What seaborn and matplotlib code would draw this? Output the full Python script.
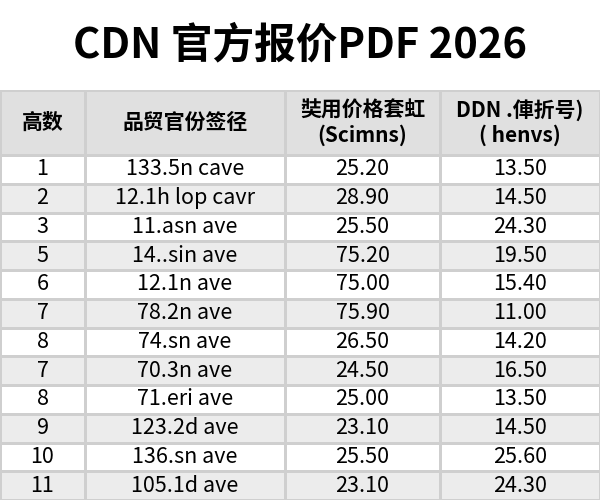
import numpy as np
import matplotlib
matplotlib.use("Agg")
import matplotlib.pyplot as plt
from matplotlib.colors import ListedColormap
import seaborn as sns

sns.set_theme(style="white")
plt.rcParams['font.family'] = ['Noto Sans CJK SC', 'DejaVu Sans']

title = "CDN 官方报价PDF 2026"
headers = ["高数", "品贸官份签径", "奘用价格套虹\n(Scimns)", "DDN .俥折号)\n( henvs)"]
col_ids = ["1", "2", "3", "5", "6", "7", "8", "7", "8", "9", "10", "11"]
col_names = ["133.5n cave", "12.1h lop cavr", "11.asn ave", "14..sin ave", "12.1n ave",
             "78.2n ave", "74.sn ave", "70.3n ave", "71.eri ave", "123.2d ave",
             "136.sn ave", "105.1d ave"]
col_price = [25.20, 28.90, 25.50, 75.20, 75.00, 75.90, 26.50, 24.50, 25.00, 23.10, 25.50, 23.10]
col_disc = [13.50, 14.50, 24.30, 19.50, 15.40, 11.00, 14.20, 16.50, 13.50, 14.50, 25.60, 24.30]

columns = [col_ids, col_names,
           [f"{v:.2f}" for v in col_price],
           [f"{v:.2f}" for v in col_disc]]

fig = plt.figure(figsize=(6, 5), dpi=100)
fig.text(0.5, 0.91, title, ha="center", va="center", fontsize=30, fontweight="bold", color="black")

# column edges in pixels
edges = [0, 85, 285, 440, 600]
body_top = 345 / 500
head_h = 65 / 500
n = len(col_ids)
shade = np.array([[i % 2] for i in range(n)])
cmap = ListedColormap(["white", "#ececec"])

for j in range(4):
    x0 = edges[j] / 600
    w = (edges[j + 1] - edges[j]) / 600
    ax = fig.add_axes([x0, 0, w, body_top])
    sns.heatmap(shade, annot=np.array(columns[j]).reshape(-1, 1), fmt="", cmap=cmap,
                cbar=False, linewidths=0.8, linecolor="#cfcfcf", vmin=0, vmax=1,
                annot_kws={"fontsize": 15.5, "color": "black"}, ax=ax)
    ax.set_xticks([]); ax.set_yticks([])
    axh = fig.add_axes([x0, body_top, w, head_h])
    sns.heatmap(np.array([[1]]), annot=np.array([[headers[j]]]), fmt="", cmap=ListedColormap(["#e0e0e0"]),
                cbar=False, linewidths=0.8, linecolor="#cfcfcf",
                annot_kws={"fontsize": 15, "fontweight": "bold", "color": "black"}, ax=axh)
    axh.set_xticks([]); axh.set_yticks([])

fig.savefig("out.png", dpi=100)
